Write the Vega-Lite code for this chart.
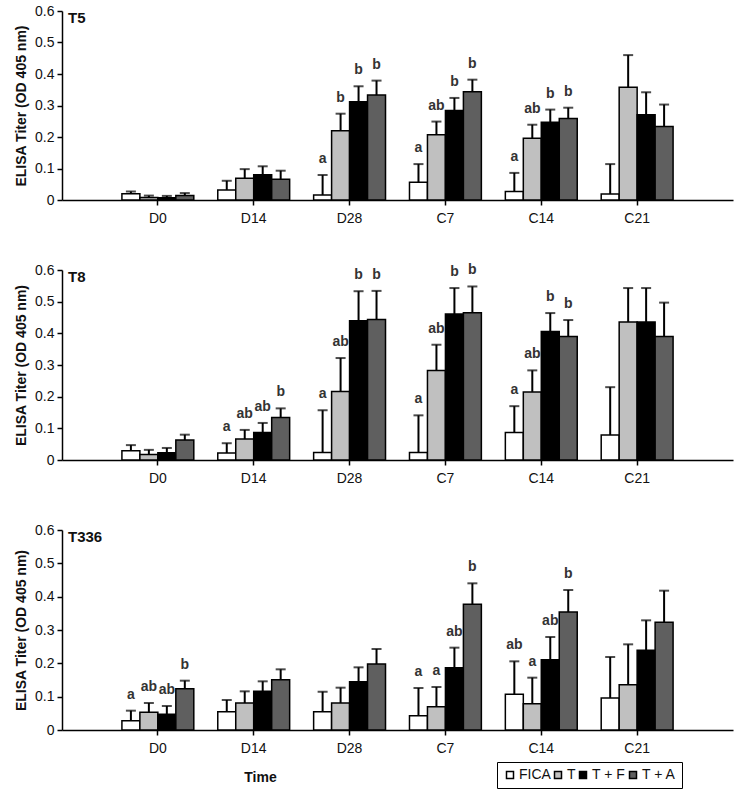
{
  "$schema": "https://vega.github.io/schema/vega-lite/v6.json",
  "padding": {"left": 14, "top": 4, "right": 4, "bottom": 4},
  "background": "white",
  "config": {
    "font": "Liberation Sans",
    "view": {"stroke": null},
    "axis": {"domainColor": "black", "tickColor": "black", "labelColor": "#111", "titleColor": "#111", "grid": false, "domainWidth": 1.5, "tickWidth": 1.5},
    "axisY": {"labelOverlap": false, "labelFontSize": 14, "tickSize": 5, "labelPadding": 3, "titleFontSize": 14, "titleFontWeight": "bold", "titlePadding": 6},
    "title": {"color": "#111"}
  },
  "data": {"values": [
    {"p": "T5", "t": "D0", "g": "FICA", "v": 0.02, "e": 0.027, "l": ""},
    {"p": "T5", "t": "D0", "g": "T", "v": 0.008, "e": 0.014, "l": ""},
    {"p": "T5", "t": "D0", "g": "T + F", "v": 0.007, "e": 0.013, "l": ""},
    {"p": "T5", "t": "D0", "g": "T + A", "v": 0.014, "e": 0.022, "l": ""},
    {"p": "T5", "t": "D14", "g": "FICA", "v": 0.032, "e": 0.061, "l": ""},
    {"p": "T5", "t": "D14", "g": "T", "v": 0.069, "e": 0.098, "l": ""},
    {"p": "T5", "t": "D14", "g": "T + F", "v": 0.08, "e": 0.107, "l": ""},
    {"p": "T5", "t": "D14", "g": "T + A", "v": 0.066, "e": 0.093, "l": ""},
    {"p": "T5", "t": "D28", "g": "FICA", "v": 0.016, "e": 0.079, "l": "a"},
    {"p": "T5", "t": "D28", "g": "T", "v": 0.22, "e": 0.274, "l": "b"},
    {"p": "T5", "t": "D28", "g": "T + F", "v": 0.312, "e": 0.361, "l": "b"},
    {"p": "T5", "t": "D28", "g": "T + A", "v": 0.333, "e": 0.379, "l": "b"},
    {"p": "T5", "t": "C7", "g": "FICA", "v": 0.056, "e": 0.114, "l": "a"},
    {"p": "T5", "t": "C7", "g": "T", "v": 0.207, "e": 0.249, "l": "ab"},
    {"p": "T5", "t": "C7", "g": "T + F", "v": 0.284, "e": 0.324, "l": "b"},
    {"p": "T5", "t": "C7", "g": "T + A", "v": 0.344, "e": 0.382, "l": "b"},
    {"p": "T5", "t": "C14", "g": "FICA", "v": 0.027, "e": 0.086, "l": "a"},
    {"p": "T5", "t": "C14", "g": "T", "v": 0.196, "e": 0.239, "l": "ab"},
    {"p": "T5", "t": "C14", "g": "T + F", "v": 0.247, "e": 0.287, "l": "b"},
    {"p": "T5", "t": "C14", "g": "T + A", "v": 0.259, "e": 0.293, "l": "b"},
    {"p": "T5", "t": "C21", "g": "FICA", "v": 0.019, "e": 0.114, "l": ""},
    {"p": "T5", "t": "C21", "g": "T", "v": 0.358, "e": 0.46, "l": ""},
    {"p": "T5", "t": "C21", "g": "T + F", "v": 0.271, "e": 0.342, "l": ""},
    {"p": "T5", "t": "C21", "g": "T + A", "v": 0.233, "e": 0.303, "l": ""},

    {"p": "T8", "t": "D0", "g": "FICA", "v": 0.029, "e": 0.047, "l": ""},
    {"p": "T8", "t": "D0", "g": "T", "v": 0.017, "e": 0.032, "l": ""},
    {"p": "T8", "t": "D0", "g": "T + F", "v": 0.023, "e": 0.038, "l": ""},
    {"p": "T8", "t": "D0", "g": "T + A", "v": 0.063, "e": 0.08, "l": ""},
    {"p": "T8", "t": "D14", "g": "FICA", "v": 0.022, "e": 0.053, "l": "a"},
    {"p": "T8", "t": "D14", "g": "T", "v": 0.066, "e": 0.095, "l": "ab"},
    {"p": "T8", "t": "D14", "g": "T + F", "v": 0.087, "e": 0.117, "l": "ab"},
    {"p": "T8", "t": "D14", "g": "T + A", "v": 0.134, "e": 0.163, "l": "b"},
    {"p": "T8", "t": "D28", "g": "FICA", "v": 0.024, "e": 0.157, "l": "a"},
    {"p": "T8", "t": "D28", "g": "T", "v": 0.216, "e": 0.322, "l": "ab"},
    {"p": "T8", "t": "D28", "g": "T + F", "v": 0.44, "e": 0.533, "l": "b"},
    {"p": "T8", "t": "D28", "g": "T + A", "v": 0.444, "e": 0.534, "l": "b"},
    {"p": "T8", "t": "C7", "g": "FICA", "v": 0.024, "e": 0.141, "l": "a"},
    {"p": "T8", "t": "C7", "g": "T", "v": 0.283, "e": 0.364, "l": "ab"},
    {"p": "T8", "t": "C7", "g": "T + F", "v": 0.461, "e": 0.543, "l": "b"},
    {"p": "T8", "t": "C7", "g": "T + A", "v": 0.465, "e": 0.548, "l": "b"},
    {"p": "T8", "t": "C14", "g": "FICA", "v": 0.087, "e": 0.17, "l": "a"},
    {"p": "T8", "t": "C14", "g": "T", "v": 0.215, "e": 0.283, "l": "ab"},
    {"p": "T8", "t": "C14", "g": "T + F", "v": 0.406, "e": 0.464, "l": "b"},
    {"p": "T8", "t": "C14", "g": "T + A", "v": 0.39, "e": 0.442, "l": "b"},
    {"p": "T8", "t": "C21", "g": "FICA", "v": 0.079, "e": 0.23, "l": ""},
    {"p": "T8", "t": "C21", "g": "T", "v": 0.436, "e": 0.543, "l": ""},
    {"p": "T8", "t": "C21", "g": "T + F", "v": 0.436, "e": 0.543, "l": ""},
    {"p": "T8", "t": "C21", "g": "T + A", "v": 0.39, "e": 0.497, "l": ""},

    {"p": "T336", "t": "D0", "g": "FICA", "v": 0.028, "e": 0.058, "l": "a"},
    {"p": "T336", "t": "D0", "g": "T", "v": 0.053, "e": 0.081, "l": "ab"},
    {"p": "T336", "t": "D0", "g": "T + F", "v": 0.047, "e": 0.072, "l": "ab"},
    {"p": "T336", "t": "D0", "g": "T + A", "v": 0.124, "e": 0.148, "l": "b"},
    {"p": "T336", "t": "D14", "g": "FICA", "v": 0.055, "e": 0.09, "l": ""},
    {"p": "T336", "t": "D14", "g": "T", "v": 0.081, "e": 0.116, "l": ""},
    {"p": "T336", "t": "D14", "g": "T + F", "v": 0.116, "e": 0.146, "l": ""},
    {"p": "T336", "t": "D14", "g": "T + A", "v": 0.151, "e": 0.182, "l": ""},
    {"p": "T336", "t": "D28", "g": "FICA", "v": 0.055, "e": 0.115, "l": ""},
    {"p": "T336", "t": "D28", "g": "T", "v": 0.081, "e": 0.127, "l": ""},
    {"p": "T336", "t": "D28", "g": "T + F", "v": 0.145, "e": 0.188, "l": ""},
    {"p": "T336", "t": "D28", "g": "T + A", "v": 0.198, "e": 0.243, "l": ""},
    {"p": "T336", "t": "C7", "g": "FICA", "v": 0.043, "e": 0.126, "l": "a"},
    {"p": "T336", "t": "C7", "g": "T", "v": 0.07, "e": 0.129, "l": "a"},
    {"p": "T336", "t": "C7", "g": "T + F", "v": 0.187, "e": 0.247, "l": "ab"},
    {"p": "T336", "t": "C7", "g": "T + A", "v": 0.377, "e": 0.44, "l": "b"},
    {"p": "T336", "t": "C14", "g": "FICA", "v": 0.107, "e": 0.206, "l": "ab"},
    {"p": "T336", "t": "C14", "g": "T", "v": 0.079, "e": 0.157, "l": "a"},
    {"p": "T336", "t": "C14", "g": "T + F", "v": 0.211, "e": 0.279, "l": "ab"},
    {"p": "T336", "t": "C14", "g": "T + A", "v": 0.354, "e": 0.42, "l": "b"},
    {"p": "T336", "t": "C21", "g": "FICA", "v": 0.096, "e": 0.219, "l": ""},
    {"p": "T336", "t": "C21", "g": "T", "v": 0.136, "e": 0.257, "l": ""},
    {"p": "T336", "t": "C21", "g": "T + F", "v": 0.239, "e": 0.329, "l": ""},
    {"p": "T336", "t": "C21", "g": "T + A", "v": 0.323, "e": 0.418, "l": ""}
  ]},
  "bounds": "flush",
  "spacing": 70,
  "resolve": {"legend": {"fill": "independent"}},
  "vconcat": [
    {
      "width": 671, "height": 189,
      "title": {"text": "T5", "anchor": "start", "orient": "top", "offset": -22, "dx": 6, "fontSize": 15, "fontWeight": "bold", "frame": "group"},
      "transform": [{"filter": "datum.p === 'T5'"}],
      "encoding": {
        "x": {"field": "t", "type": "nominal", "sort": ["D0", "D14", "D28", "C7", "C14", "C21"], "scale": {"paddingInner": 0, "paddingOuter": 0.5}, "axis": {"title": null, "labelAngle": 0, "labelFontSize": 14, "tickSize": 5, "labelPadding": 6}},
        "xOffset": {"field": "g", "type": "nominal", "sort": ["FICA", "T", "T + F", "T + A"], "scale": {"paddingInner": 0, "paddingOuter": 0.667}}
      },
      "layer": [
        {"mark": {"type": "bar", "stroke": "black", "strokeWidth": 1.5}, "encoding": {"y": {"field": "v", "type": "quantitative", "scale": {"domain": [0, 0.6], "nice": false}, "axis": {"title": "ELISA Titer (OD 405 nm)", "values": [0, 0.1, 0.2, 0.3, 0.4, 0.5, 0.6], "format": "~g"}}, "fill": {"field": "g", "type": "nominal", "sort": ["FICA", "T", "T + F", "T + A"], "scale": {"domain": ["FICA", "T", "T + F", "T + A"], "range": ["#ffffff", "#c0c0c0", "#000000", "#5f5f5f"]}, "legend": null}}},
        {"mark": {"type": "rule", "strokeWidth": 2, "color": "black"}, "encoding": {"y": {"field": "v", "type": "quantitative", "axis": {"title": "ELISA Titer (OD 405 nm)", "values": [0, 0.1, 0.2, 0.3, 0.4, 0.5, 0.6], "format": "~g"}}, "y2": {"field": "e"}}},
        {"mark": {"type": "tick", "thickness": 2, "size": 10, "color": "black"}, "encoding": {"y": {"field": "e", "type": "quantitative", "axis": {"title": "ELISA Titer (OD 405 nm)", "values": [0, 0.1, 0.2, 0.3, 0.4, 0.5, 0.6], "format": "~g"}}}},
        {"mark": {"type": "text", "fontWeight": "bold", "fontSize": 14, "color": "#333", "baseline": "alphabetic", "dy": -12}, "encoding": {"y": {"field": "e", "type": "quantitative", "axis": {"title": "ELISA Titer (OD 405 nm)", "values": [0, 0.1, 0.2, 0.3, 0.4, 0.5, 0.6], "format": "~g"}}, "text": {"field": "l"}}}
      ]
    },
    {
      "width": 671, "height": 190,
      "title": {"text": "T8", "anchor": "start", "orient": "top", "offset": -22, "dx": 6, "fontSize": 15, "fontWeight": "bold", "frame": "group"},
      "transform": [{"filter": "datum.p === 'T8'"}],
      "encoding": {
        "x": {"field": "t", "type": "nominal", "sort": ["D0", "D14", "D28", "C7", "C14", "C21"], "scale": {"paddingInner": 0, "paddingOuter": 0.5}, "axis": {"title": null, "labelAngle": 0, "labelFontSize": 14, "tickSize": 5, "labelPadding": 6}},
        "xOffset": {"field": "g", "type": "nominal", "sort": ["FICA", "T", "T + F", "T + A"], "scale": {"paddingInner": 0, "paddingOuter": 0.667}}
      },
      "layer": [
        {"mark": {"type": "bar", "stroke": "black", "strokeWidth": 1.5}, "encoding": {"y": {"field": "v", "type": "quantitative", "scale": {"domain": [0, 0.6], "nice": false}, "axis": {"title": "ELISA Titer (OD 405 nm)", "values": [0, 0.1, 0.2, 0.3, 0.4, 0.5, 0.6], "format": "~g"}}, "fill": {"field": "g", "type": "nominal", "sort": ["FICA", "T", "T + F", "T + A"], "scale": {"domain": ["FICA", "T", "T + F", "T + A"], "range": ["#ffffff", "#c0c0c0", "#000000", "#5f5f5f"]}, "legend": null}}},
        {"mark": {"type": "rule", "strokeWidth": 2, "color": "black"}, "encoding": {"y": {"field": "v", "type": "quantitative", "axis": {"title": "ELISA Titer (OD 405 nm)", "values": [0, 0.1, 0.2, 0.3, 0.4, 0.5, 0.6], "format": "~g"}}, "y2": {"field": "e"}}},
        {"mark": {"type": "tick", "thickness": 2, "size": 10, "color": "black"}, "encoding": {"y": {"field": "e", "type": "quantitative", "axis": {"title": "ELISA Titer (OD 405 nm)", "values": [0, 0.1, 0.2, 0.3, 0.4, 0.5, 0.6], "format": "~g"}}}},
        {"mark": {"type": "text", "fontWeight": "bold", "fontSize": 14, "color": "#333", "baseline": "alphabetic", "dy": -12}, "encoding": {"y": {"field": "e", "type": "quantitative", "axis": {"title": "ELISA Titer (OD 405 nm)", "values": [0, 0.1, 0.2, 0.3, 0.4, 0.5, 0.6], "format": "~g"}}, "text": {"field": "l"}}}
      ]
    },
    {
      "width": 671, "height": 200,
      "title": {"text": "T336", "anchor": "start", "orient": "top", "offset": -22, "dx": 6, "fontSize": 15, "fontWeight": "bold", "frame": "group"},
      "transform": [{"filter": "datum.p === 'T336'"}],
      "encoding": {
        "x": {"field": "t", "type": "nominal", "sort": ["D0", "D14", "D28", "C7", "C14", "C21"], "scale": {"paddingInner": 0, "paddingOuter": 0.5}, "axis": {"title": "Time", "titleX": 198, "titleY": 47, "titleAlign": "center", "titleBaseline": "middle", "titleFontSize": 14, "titleFontWeight": "bold", "labelAngle": 0, "labelFontSize": 14, "tickSize": 5, "labelPadding": 6}},
        "xOffset": {"field": "g", "type": "nominal", "sort": ["FICA", "T", "T + F", "T + A"], "scale": {"paddingInner": 0, "paddingOuter": 0.667}}
      },
      "layer": [
        {"mark": {"type": "bar", "stroke": "black", "strokeWidth": 1.5}, "encoding": {"y": {"field": "v", "type": "quantitative", "scale": {"domain": [0, 0.6], "nice": false}, "axis": {"title": "ELISA Titer (OD 405 nm)", "values": [0, 0.1, 0.2, 0.3, 0.4, 0.5, 0.6], "format": "~g"}}, "fill": {"field": "g", "type": "nominal", "sort": ["FICA", "T", "T + F", "T + A"], "scale": {"domain": ["FICA", "T", "T + F", "T + A"], "range": ["#ffffff", "#c0c0c0", "#000000", "#5f5f5f"]}, "legend": {"title": null, "orient": "none", "legendX": 435, "legendY": 232, "direction": "horizontal", "symbolType": "square", "symbolSize": 49, "symbolStrokeColor": "black", "symbolStrokeWidth": 1.5, "labelFontSize": 14, "labelColor": "#111", "labelOffset": 2, "columnPadding": 0, "padding": 6, "strokeColor": "black", "fillColor": "white"}}}},
        {"mark": {"type": "rule", "strokeWidth": 2, "color": "black"}, "encoding": {"y": {"field": "v", "type": "quantitative", "axis": {"title": "ELISA Titer (OD 405 nm)", "values": [0, 0.1, 0.2, 0.3, 0.4, 0.5, 0.6], "format": "~g"}}, "y2": {"field": "e"}}},
        {"mark": {"type": "tick", "thickness": 2, "size": 10, "color": "black"}, "encoding": {"y": {"field": "e", "type": "quantitative", "axis": {"title": "ELISA Titer (OD 405 nm)", "values": [0, 0.1, 0.2, 0.3, 0.4, 0.5, 0.6], "format": "~g"}}}},
        {"mark": {"type": "text", "fontWeight": "bold", "fontSize": 14, "color": "#333", "baseline": "alphabetic", "dy": -12}, "encoding": {"y": {"field": "e", "type": "quantitative", "axis": {"title": "ELISA Titer (OD 405 nm)", "values": [0, 0.1, 0.2, 0.3, 0.4, 0.5, 0.6], "format": "~g"}}, "text": {"field": "l"}}}
      ]
    }
  ]
}
